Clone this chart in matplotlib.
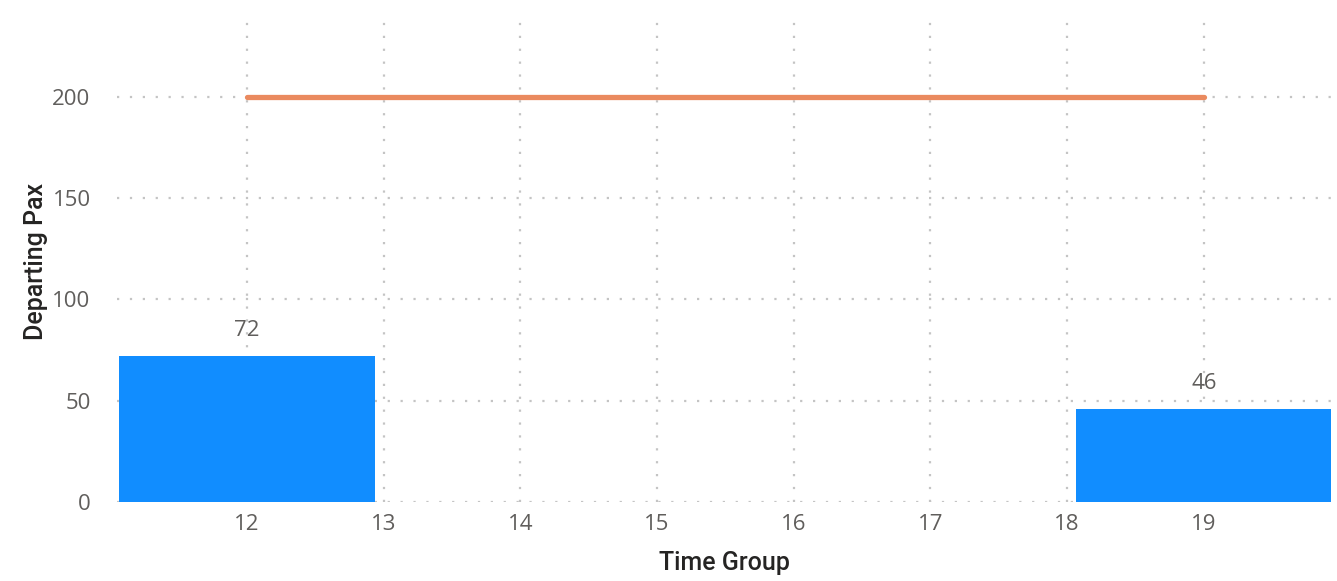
import matplotlib.pyplot as plt

# DADOS
time_groups = [12, 13, 14, 15, 16, 17, 18, 19]
bar_groups = [12, 19]
departing_pax = [72, 46]
capacity = [200, 200, 200, 200, 200, 200, 200, 200]
y_ticks = [0, 50, 100, 150, 200]

plt.rcParams['font.family'] = ['Open Sans', 'DejaVu Sans']

fig = plt.figure(figsize=(13.37, 5.81), dpi=100)
ax = fig.add_axes([0.0875, 0.136, 0.908, 0.8296])

# barras
ax.bar(bar_groups, departing_pax, width=1.87, color='#118DFF', zorder=2)
for x, v in zip(bar_groups, departing_pax):
    ax.annotate(str(v), (x, v), xytext=(0, 11), textcoords='offset points',
                ha='center', va='bottom', fontsize=16, color='#605E5C')

# linha
ax.plot(time_groups, capacity, color='#EA8A5F', lw=3.8,
        solid_capstyle='round', zorder=3)

ax.set_xlim(11.05, 19.93)
ax.set_ylim(0, 238)
ax.set_xticks(time_groups)
ax.set_yticks(y_ticks)

ax.grid(True, color='#C4C4C4', linestyle=(0, (1, 4.8)), lw=1.6, zorder=0)
ax.set_axisbelow(True)
for s in ax.spines.values():
    s.set_visible(False)
ax.tick_params(length=0, labelsize=16, labelcolor='#605E5C')
ax.tick_params(axis='y', pad=19)
ax.tick_params(axis='x', pad=9)

ax.set_xlabel('Time Group', fontsize=18, color='#252423',
              family=['Roboto', 'DejaVu Sans'], weight='medium', labelpad=11)
ax.set_ylabel('Departing Pax', fontsize=18, color='#252423',
              family=['Roboto', 'DejaVu Sans'], weight='medium', labelpad=3)

fig.savefig('out.png', dpi=100)
